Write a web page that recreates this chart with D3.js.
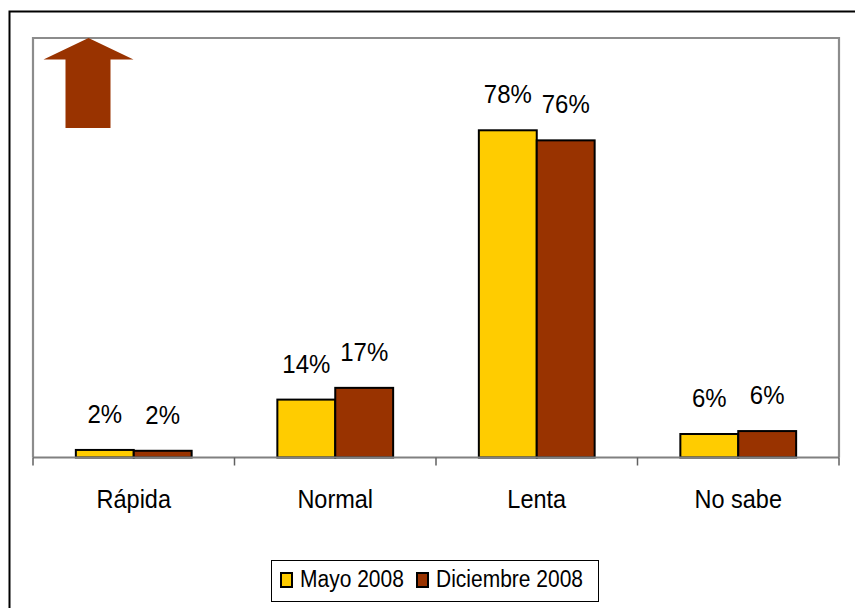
<!DOCTYPE html>
<html>
<head>
<meta charset="utf-8">
<script src="https://cdn.jsdelivr.net/npm/d3@7/dist/d3.min.js"></script>
<style>
  body { margin: 0; background: #fff; }
  svg { display: block; font-family: "Liberation Sans", Arial, sans-serif; }
</style>
</head>
<body>
<div id="chart"></div>
<script>
// data
var categories = ["Rápida", "Normal", "Lenta", "No sabe"];
var series = ["Mayo 2008", "Diciembre 2008"];
var mayo = [1.8, 13.8, 78, 5.6];
var diciembre = [1.6, 16.6, 75.6, 6.3];
var colors = ["#FFCC00", "#993300"];

var width = 855;
var height = 608;

var svg = d3.select("#chart")
  .append("svg")
    .attr("width", width)
    .attr("height", height);

// outer frame
svg.append("rect")
  .attr("x", 9.5).attr("y", 11.5)
  .attr("width", 900).attr("height", 700)
  .attr("fill", "none")
  .attr("stroke", "#000")
  .attr("stroke-width", 2);

var plot = {left: 33, right: 839, top: 38, bottom: 457.5};

var x = d3.scaleBand()
  .domain(categories)
  .range([plot.left, plot.right]);

var xs = d3.scaleBand()
  .domain(series)
  .range([0, x.bandwidth()])
  .paddingOuter(0.74);

var y = d3.scaleLinear()
  .domain([0, 100])
  .range([plot.bottom, plot.top]);

// text in the original is a bit taller than wide
var stretch = 1.1;

// plot area border (left, top, right)
svg.append("path")
  .attr("d", "M" + plot.left + "," + plot.bottom + "V" + plot.top + "H" + plot.right + "V" + plot.bottom)
  .attr("fill", "none")
  .attr("stroke", "#8c8c8c")
  .attr("stroke-width", 2.2);

// arrow
svg.append("path")
  .attr("d", "M88.5,38 L133.5,59.5 L110.5,59.5 L110.5,128 L65.5,128 L65.5,59.5 L43.5,59.5 Z")
  .attr("fill", "#993300");

var rows = categories.map(function(c, i) {
  return [
    {cat: c, s: series[0], v: mayo[i], color: colors[0]},
    {cat: c, s: series[1], v: diciembre[i], color: colors[1]}
  ];
});

var groups = svg.selectAll("g.cat")
  .data(rows)
  .enter()
  .append("g")
    .attr("class", "cat")
    .attr("transform", function(d) { return "translate(" + x(d[0].cat) + ",0)"; });

groups.selectAll("rect")
  .data(function(d) { return d; })
  .enter()
  .append("rect")
    .attr("x", function(d) { return xs(d.s); })
    .attr("y", function(d) { return y(d.v); })
    .attr("width", xs.bandwidth())
    .attr("height", function(d) { return y(0) - y(d.v); })
    .attr("fill", function(d) { return d.color; })
    .attr("stroke", "#000")
    .attr("stroke-width", 2);

var fmt = d3.format(".0f");

groups.selectAll("text.val")
  .data(function(d) { return d; })
  .enter()
  .append("text")
    .attr("class", "val")
    .attr("transform", function(d) {
      return "translate(" + (xs(d.s) + xs.bandwidth() / 2) + "," + (y(d.v) - 27) + ") scale(1," + stretch + ")";
    })
    .attr("text-anchor", "middle")
    .attr("font-size", 24)
    .text(function(d) { return fmt(d.v) + "%"; });

// axis
var axis = svg.append("g").attr("class", "axis");
axis.append("line")
  .attr("x1", plot.left).attr("x2", plot.right)
  .attr("y1", plot.bottom).attr("y2", plot.bottom)
  .attr("stroke", "#808080")
  .attr("stroke-width", 2);

var ticks = categories.map(function(c) { return x(c); }).concat([plot.right]);
axis.selectAll("line.tick")
  .data(ticks)
  .enter()
  .append("line")
    .attr("class", "tick")
    .attr("x1", function(d) { return d; }).attr("x2", function(d) { return d; })
    .attr("y1", plot.bottom).attr("y2", plot.bottom + 8)
    .attr("stroke", "#606060")
    .attr("stroke-width", 1.5);

axis.selectAll("text")
  .data(categories)
  .enter()
  .append("text")
    .attr("transform", function(d) {
      return "translate(" + (x(d) + x.bandwidth() / 2) + ",508) scale(1," + stretch + ")";
    })
    .attr("text-anchor", "middle")
    .attr("font-size", 23.5)
    .text(function(d) { return d; });

// legend
var legend = svg.append("g").attr("class", "legend");
legend.append("rect")
  .attr("x", 271.5).attr("y", 560.5)
  .attr("width", 327).attr("height", 41)
  .attr("fill", "#fff")
  .attr("stroke", "#000")
  .attr("stroke-width", 1);

var legX = [281, 417];
var item = legend.selectAll("g.item")
  .data(series)
  .enter()
  .append("g")
    .attr("class", "item")
    .attr("transform", function(d, i) { return "translate(" + legX[i] + ",573)"; });

item.append("rect")
  .attr("width", 11).attr("height", 14)
  .attr("fill", function(d, i) { return colors[i]; })
  .attr("stroke", "#000")
  .attr("stroke-width", 2);

item.append("text")
  .attr("transform", "translate(19,14) scale(1," + stretch + ")")
  .attr("font-size", 21)
  .text(function(d) { return d; });
</script>
</body>
</html>
